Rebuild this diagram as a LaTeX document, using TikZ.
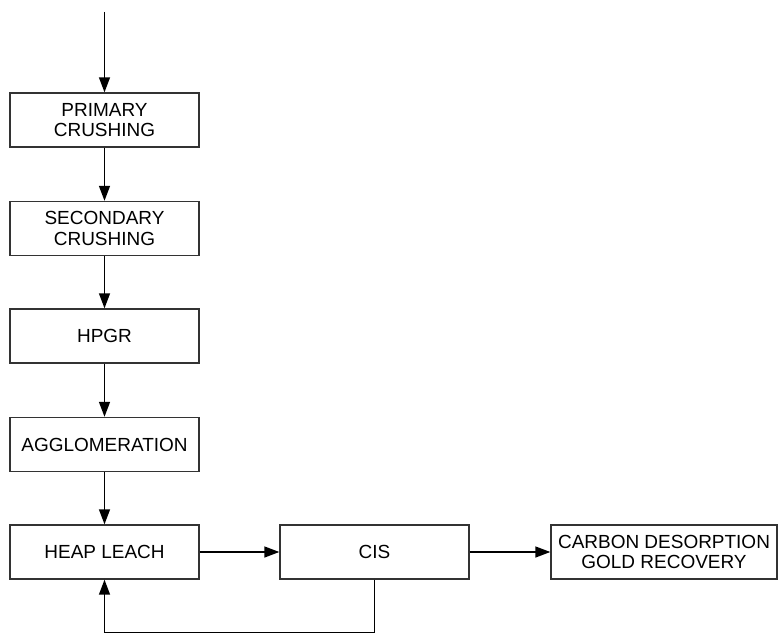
\documentclass[tikz,border=0pt]{standalone}
\usepackage{fontspec}
\setmainfont{Liberation Sans}
\usetikzlibrary{arrows.meta}
\begin{document}
\begin{tikzpicture}[x=0.02cm,y=-0.02cm,
	box/.style={draw=black!80,line width=0.8pt,minimum width=3.78cm,minimum height=1.08cm,align=center,inner sep=1pt,font=\fontsize{10.8}{11.8}\selectfont},
	flow/.style={line width=0.8pt,-{Triangle[length=0.3cm,width=0.22cm]}}]
	\useasboundingbox (0,0) rectangle (783,634);

	\coordinate (feed) at (104.5,12);
	\node [box](primary) at (104.5,120) {PRIMARY\\CRUSHING};
	\node [box](secondary) at (104.5,228.5) {SECONDARY\\CRUSHING};
	\node [box](hpgr) at (104.5,336) {HPGR};
	\node [box](agglo) at (104.5,444.5) {AGGLOMERATION};
	\node [box](heap) at (104.5,552) {HEAP LEACH};
	\node [box](cis) at (374.5,552) {CIS};
	\node [box,minimum width=4.52cm](carbon) at (664,552) {CARBON DESORPTION\\GOLD RECOVERY};

	\draw [flow] (feed) -- (primary);
	\draw [flow] (primary) -- (secondary);
	\draw [flow] (secondary) -- (hpgr);
	\draw [flow] (hpgr) -- (agglo);
	\draw [flow] (agglo) -- (heap);
	\draw [flow] (heap) -- (cis);
	\draw [flow] (cis) -- (carbon);
	\draw [flow] (cis.south) -- ++(0,53) -| (heap.south);
\end{tikzpicture}
\end{document}
